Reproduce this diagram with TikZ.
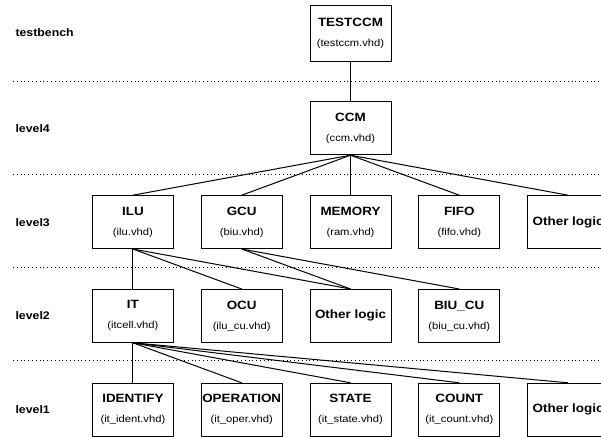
\documentclass[tikz,border=0pt]{standalone}
\usepackage{fontspec}
\setmainfont[FakeStretch=1.12]{Liberation Sans}
\usetikzlibrary{positioning}

% second line of a block: the vhdl file
\newcommand{\vhd}[1]{\\[6pt]{\fontsize{10}{12}\selectfont\mdseries (#1.vhd)}}

\begin{document}
\begin{tikzpicture}[x=1pt, y=-1pt,
		node distance=40pt and 27pt,
		blk/.style={draw, line width=0.8pt, minimum width=81pt, minimum height=53pt,
			inner sep=0pt, align=center, font=\fontsize{12}{14}\selectfont\bfseries},
		lvl/.style={anchor=west, font=\fontsize{11}{13}\selectfont\bfseries},
		sep/.style={line width=0.7pt, dash pattern=on 0.8pt off 3pt},
		link/.style={line width=1pt}]
	\useasboundingbox (0,0) rectangle (601,436);

	% testbench and level4
	\node[blk, minimum height=56pt] (tb) at (350.5,33) {TESTCCM\vhd{testccm}};
	\node[blk, below=of tb] (ccm) {CCM\vhd{ccm}};

	% level3
	\node[blk, below=of ccm] (mem) {MEMORY\vhd{ram}};
	\node[blk, left=of mem] (gcu) {GCU\vhd{biu}};
	\node[blk, left=of gcu] (ilu) {ILU\vhd{ilu}};
	\node[blk, right=of mem] (fifo) {FIFO\vhd{fifo}};
	\node[blk, right=of fifo] (oth3) {Other logic};

	% level2
	\node[blk, below=of mem] (oth2) {Other logic};
	\node[blk, left=of oth2] (ocu) {OCU\vhd{ilu\_cu}};
	\node[blk, left=of ocu] (it) {IT\vhd{itcell}};
	\node[blk, right=of oth2] (biucu) {BIU\_CU\vhd{biu\_cu}};

	% level1
	\node[blk, below=of oth2] (state) {STATE\vhd{it\_state}};
	\node[blk, left=of state] (oper) {OPERATION\vhd{it\_oper}};
	\node[blk, left=of oper] (ident) {IDENTIFY\vhd{it\_ident}};
	\node[blk, right=of state] (count) {COUNT\vhd{it\_count}};
	\node[blk, right=of count] (oth1) {Other logic};

	% level names
	\node[lvl] (l0) at (12,0 |- tb) {testbench};
	\node[lvl] (l4) at (12,0 |- ccm) {level4};
	\node[lvl] (l3) at (12,0 |- ilu) {level3};
	\node[lvl] (l2) at (12,0 |- it) {level2};
	\node[lvl] (l1) at (12,0 |- ident) {level1};

	% dotted separators
	\foreach \y in {81,174,267,360}
		\draw[sep] (13,\y) -- (601,\y);

	% instantiation links
	\draw[link] (tb) -- (ccm);
	\foreach \c in {ilu,gcu,mem,fifo,oth3}
		\draw[link] (ccm.south) -- (\c.north);
	\foreach \c in {it,ocu,oth2}
		\draw[link] (ilu.south) -- (\c.north);
	\foreach \c in {oth2,biucu}
		\draw[link] (gcu.south) -- (\c.north);
	\foreach \c in {ident,oper,state,count,oth1}
		\draw[link] (it.south) -- (\c.north);
\end{tikzpicture}
\end{document}
